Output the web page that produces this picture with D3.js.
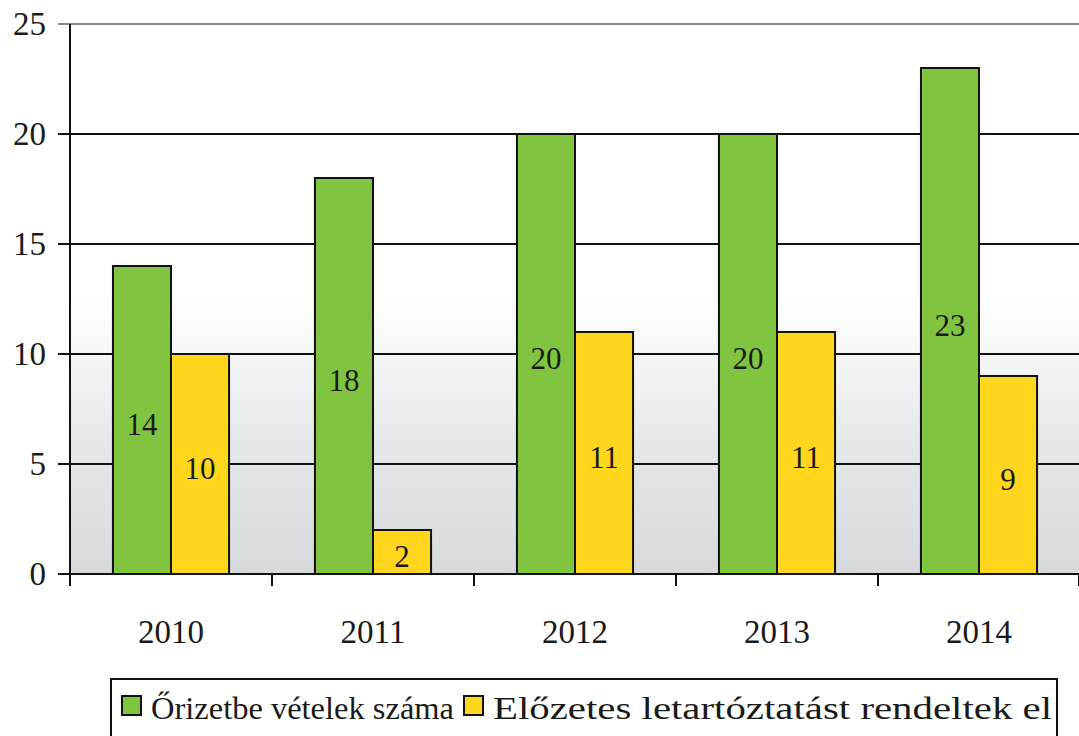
<!DOCTYPE html>
<html>
<head>
<meta charset="utf-8">
<script src="https://cdn.jsdelivr.net/npm/d3@7"></script>
<style>
  html, body { margin: 0; padding: 0; background: #fff; }
</style>
</head>
<body>
<div id="chart"></div>
<script>
// data
const years = ['2010', '2011', '2012', '2013', '2014'];
const seriesNames = ['Őrizetbe vételek száma', 'Előzetes letartóztatást rendeltek el'];
const detentions = [14, 18, 20, 20, 23];
const arrests = [10, 2, 11, 11, 9];
const yTicks = [0, 5, 10, 15, 20, 25];
const colors = ['#80c43f', '#ffd61e'];

const width = 1079, height = 736;
const plot = {left: 70, right: 1080, top: 24, bottom: 574};
const FONT = '"Liberation Serif"';

const svg = d3.select('#chart')
    .append('svg')
    .attr('width', width)
    .attr('height', height);

// background fade, white at the top into light grey at the base
const defs = svg.append('defs');
const grad = defs.append('linearGradient')
    .attr('id', 'bg')
    .attr('x1', 0).attr('y1', 0).attr('x2', 0).attr('y2', 1);
grad.append('stop').attr('offset', '0%').attr('stop-color', '#ffffff');
grad.append('stop').attr('offset', '50%').attr('stop-color', '#ffffff');
grad.append('stop').attr('offset', '76%').attr('stop-color', '#e6e7e9');
grad.append('stop').attr('offset', '100%').attr('stop-color', '#d8d9dc');

const x0 = d3.scaleBand()
    .domain(years)
    .range([plot.left, plot.right]);
const x1 = d3.scaleBand()
    .domain([0, 1])
    .range([0, x0.bandwidth()])
    .paddingOuter(0.74);
const y = d3.scaleLinear()
    .domain([0, 25])
    .range([plot.bottom, plot.top]);

svg.append('rect')
    .attr('x', plot.left)
    .attr('y', plot.top)
    .attr('width', plot.right - plot.left)
    .attr('height', plot.bottom - plot.top)
    .attr('fill', 'url(#bg)');

// gridlines (top one is lighter)
svg.append('g')
    .selectAll('line')
    .data(yTicks.filter((d) => d > 0))
    .enter()
    .append('line')
    .attr('x1', plot.left - 12)
    .attr('x2', plot.right)
    .attr('y1', (d) => y(d))
    .attr('y2', (d) => y(d))
    .attr('stroke', (d) => d === 25 ? '#8a8a8a' : '#111')
    .attr('stroke-width', 2);

// y axis labels
svg.append('g')
    .selectAll('text')
    .data(yTicks)
    .enter()
    .append('text')
    .attr('x', 46)
    .attr('y', (d) => y(d))
    .attr('dy', '0.34em')
    .attr('text-anchor', 'end')
    .style('font-family', FONT)
    .style('font-size', '33px')
    .style('fill', '#1a1a1a')
    .text((d) => d);

// bars
const rows = years.map((yr, i) => ({year: yr, values: [detentions[i], arrests[i]]}));
const group = svg.append('g')
    .selectAll('g')
    .data(rows)
    .enter()
    .append('g')
    .attr('transform', (d) => `translate(${x0(d.year)},0)`);

group.selectAll('rect')
    .data((d) => d.values.map((v, k) => ({k: k, v: v})))
    .enter()
    .append('rect')
    .attr('x', (d) => x1(d.k))
    .attr('y', (d) => y(d.v))
    .attr('width', x1.bandwidth())
    .attr('height', (d) => y(0) - y(d.v))
    .attr('fill', (d) => colors[d.k])
    .attr('stroke', '#111')
    .attr('stroke-width', 2);

group.selectAll('text')
    .data((d) => d.values.map((v, k) => ({k: k, v: v})))
    .enter()
    .append('text')
    .attr('x', (d) => x1(d.k) + x1.bandwidth() / 2)
    .attr('y', (d) => Math.min(y(d.v / 2) + 4, y(0) - 14))
    .attr('dy', '0.36em')
    .attr('text-anchor', 'middle')
    .style('font-family', FONT)
    .style('font-size', '31px')
    .style('fill', '#1a1a1a')
    .text((d) => d.v);

// axes lines
svg.append('line')
    .attr('x1', plot.left).attr('x2', plot.left)
    .attr('y1', plot.top).attr('y2', plot.bottom + 12)
    .attr('stroke', '#111').attr('stroke-width', 2);
svg.append('line')
    .attr('x1', plot.left - 12).attr('x2', plot.right)
    .attr('y1', plot.bottom).attr('y2', plot.bottom)
    .attr('stroke', '#111').attr('stroke-width', 2);

// category ticks on the band edges
svg.append('g')
    .selectAll('line')
    .data(years.slice(1).map((d) => x0(d)).concat([plot.right - 1]))
    .enter()
    .append('line')
    .attr('x1', (d) => d).attr('x2', (d) => d)
    .attr('y1', plot.bottom).attr('y2', plot.bottom + 12)
    .attr('stroke', '#111').attr('stroke-width', 2);

svg.append('g')
    .selectAll('text')
    .data(years)
    .enter()
    .append('text')
    .attr('x', (d) => x0(d) + x0.bandwidth() / 2)
    .attr('y', 631)
    .attr('dy', '0.36em')
    .attr('text-anchor', 'middle')
    .style('font-family', FONT)
    .style('font-size', '33px')
    .style('fill', '#1a1a1a')
    .text((d) => d);

// legend
const legendWidths = [303, 559];
const legend = svg.append('g');
legend.append('rect')
    .attr('x', 111).attr('y', 679)
    .attr('width', 946).attr('height', 62)
    .attr('fill', '#fff')
    .attr('stroke', '#111')
    .attr('stroke-width', 2);

let lx = 122;
seriesNames.forEach((name, i) => {
    legend.append('rect')
        .attr('x', lx).attr('y', 696)
        .attr('width', 19).attr('height', 19)
        .attr('fill', colors[i])
        .attr('stroke', '#111')
        .attr('stroke-width', 2);
    legend.append('text')
        .attr('x', lx + 29)
        .attr('y', 707)
        .attr('dy', '0.36em')
        .style('font-family', FONT)
        .style('font-size', '32px')
        .style('fill', '#1a1a1a')
        .attr('textLength', legendWidths[i])
        .attr('lengthAdjust', 'spacingAndGlyphs')
        .text(name);
    lx = lx + 29 + legendWidths[i] + 10;
});
</script>
</body>
</html>
